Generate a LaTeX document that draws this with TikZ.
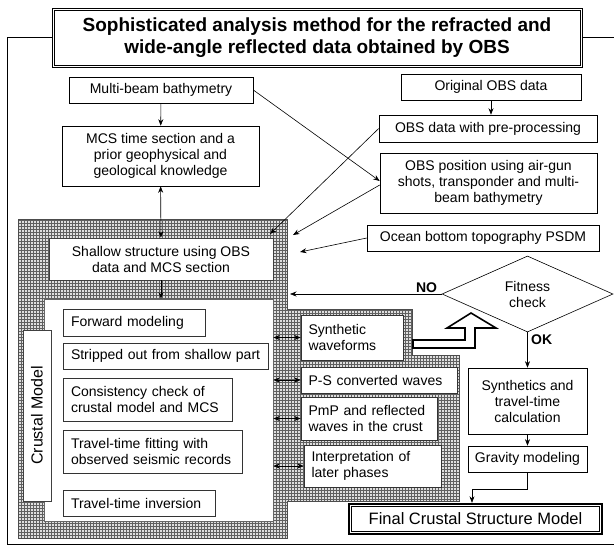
\documentclass[tikz,border=0pt]{standalone}
\usepackage{fontspec}
\setmainfont{Liberation Sans}
\usetikzlibrary{shapes.geometric, arrows.meta, patterns}
\tikzstyle{heading} = [rectangle, draw=black, line width=0.9pt, fill=white, minimum width=530pt, minimum height=59pt, align=center, font=\fontsize{19}{22}\selectfont\bfseries]
\tikzstyle{process} = [rectangle, draw=black, fill=white, line width=0.6pt, align=center, inner sep=0pt, font=\fontsize{14}{16}\selectfont]
\tikzstyle{task} = [rectangle, draw=black!80, fill=white, line width=0.6pt, align=left, inner xsep=8pt, inner ysep=0pt, font=\fontsize{14}{16}\selectfont]
\tikzstyle{wave} = [task, inner xsep=7.5pt]
\tikzstyle{decision} = [diamond, draw=black, fill=white, line width=0.6pt, aspect=2.25, inner sep=0pt, minimum width=171pt, minimum height=76pt, align=center, font=\fontsize{14}{16}\selectfont]
\tikzstyle{finalbox} = [rectangle, draw=black, line width=2.4pt, fill=white, minimum width=253pt, minimum height=30pt, font=\fontsize{16.5}{19}\selectfont]
\tikzstyle{shade} = [draw=gray!60!black, line width=0.6pt, preaction={fill=gray!25}, pattern=grid, pattern color=gray!75!black]
\tikzstyle{arrow} = [line width=0.6pt,->,>={Stealth[length=6.5pt,width=5pt]}]
\tikzstyle{twoway} = [line width=0.6pt,<->,>={Stealth[length=6.5pt,width=5pt]}]

\begin{document}
\begin{tikzpicture}[x=1pt, y=-1pt, node distance=58pt]
	\useasboundingbox (0,0) rectangle (614,547);

	\draw [shade] (18,219) -- (287,219) -- (287,309) -- (412,309) -- (412,355) -- (459,355)
		-- (459,501) -- (287,501) -- (287,538) -- (18,538) -- cycle;

	\node (title) [heading] at (317,37.5) {Sophisticated analysis method for the refracted and\\wide-angle reflected data obtained by OBS};
	\node (bathy) [process, minimum width=184pt, minimum height=26pt] at (161,90) {Multi-beam bathymetry};
	\node (orig) [process, minimum width=180pt, minimum height=26pt] at (491,87) {Original OBS data};
	\node (pre) [process, minimum width=218pt, minimum height=27pt] at (488,128.5) {OBS data with pre-processing};
	\node (mcs) [process, minimum width=197pt, minimum height=60pt] at (160.5,156) {MCS time section and a\\prior geophysical and\\geological knowledge};
	\node (pos) [process, minimum width=217pt, minimum height=60pt] at (488.5,183) {OBS position using air-gun\\shots, transponder and multi-\\beam bathymetry};
	\node (ocean) [process, minimum width=232pt, minimum height=26pt] at (483,238) {Ocean bottom topography PSDM};
	\node (shallow) [process, draw=black!75, minimum width=224pt, minimum height=42pt] at (161,259) {Shallow structure using OBS\\data and MCS section};

	\node (crust) [rectangle, draw=black!60, fill=white, line width=0.6pt, minimum width=229pt, minimum height=222pt] at (158.5,410) {};
	\node (crustlabel) [process, draw=black!75, rotate=90, minimum width=171pt, minimum height=28pt, font=\fontsize{16}{19}\selectfont] at (37,415.5) {Crustal Model};
	\node (fwd) [task, text width=126pt, minimum height=27pt] at (134,322.5) {Forward modeling};
	\node (strip) [task, inner xsep=4pt, text width=197pt, minimum height=26pt] at (165.5,356) {\hspace*{4pt}Stripped out from shallow part};
	\node (cons) [task, text width=153pt, minimum height=43pt] at (147.5,399.5) {Consistency check of\\crustal model and MCS};
	\node (fit) [task, text width=163pt, minimum height=43pt] at (152.5,451.5) {Travel-time fitting with\\observed seismic records};
	\node (inv) [task, text width=136pt, minimum height=26pt] at (139,503) {Travel-time inversion};

	\node (synw) [wave, text width=87pt, minimum height=45pt] at (352,337.5) {Synthetic\\waveforms};
	\node (ps) [wave, text width=141pt, minimum height=26pt] at (379,380) {P-S converted waves};
	\node (pmp) [wave, text width=121pt, minimum height=43pt] at (369,418.5) {PmP and reflected\\waves in the crust};
	\node (interp) [wave, text width=122pt, minimum height=42pt] at (372.5,466) {Interpretation of\\later phases};

	\node (fitness) [decision] at (527.5,294) {Fitness\\check};
	\node (syn) [process, minimum width=119pt, minimum height=66pt] at (527.5,401) {Synthetics and\\travel-time\\calculation};
	\node (grav) [process, minimum width=119pt, minimum height=26pt, below of=syn] {Gravity modeling};
	\node (final) [finalbox] at (475.5,519) {Final Crustal Structure Model};

	\coordinate (prehit) at (270,234);
	\coordinate (poshit) at (293,235);
	\coordinate (oceanhit) at (300,252);
	\coordinate (nohit) at (290,294);
	\coordinate (bend) at (472,489);

	\draw [line width=0.6pt] ([shift={(2.6,2.6)}]title.north west) rectangle ([shift={(-2.6,-2.6)}]title.south east);
	\draw [line width=0.6pt] ([shift={(3.6,3.6)}]final.north west) rectangle ([shift={(-3.6,-3.6)}]final.south east);
	\draw [line width=1.6pt, fill=white] (413,340) -- (465,340) -- (465,328) -- (447,328) -- (471,313)
		-- (496,328) -- (475,328) -- (475,348) -- (413,348) -- cycle;

	\draw [line width=0.6pt] (title.west) -| (7,544) -- (614,544);
	\draw [line width=0.6pt] (title.east) -- (614,37.5);

	\draw [arrow] (bathy) -- (mcs);
	\draw [arrow] (orig.south) -- (orig.south |- pre.north);
	\draw [arrow] (bathy.east) -- ([yshift=2pt]pos.west);
	\draw [arrow] (pre.west) -- (prehit);
	\draw [arrow] ([yshift=-2pt]pos.west) -- (poshit);
	\draw [arrow] (ocean.west) -- (oceanhit);
	\draw [twoway] (mcs) -- (shallow);
	\draw [arrow] (shallow.south) -- (shallow.south |- crust.north);

	\draw [twoway] (crust.east |- synw.west) -- (synw.west);
	\draw [twoway] (crust.east |- ps.west) -- (ps.west);
	\draw [twoway] (crust.east |- pmp.west) -- (pmp.west);
	\draw [twoway] (crust.east |- interp.west) -- (interp.west);

	\draw [arrow] (fitness.west) -- node[pos=0.1, above, inner sep=1pt, font=\fontsize{14}{16}\selectfont\bfseries]{NO} (nohit);
	\draw [arrow] (fitness.south) -- node[pos=0.22, right, font=\fontsize{14}{16}\selectfont\bfseries]{OK} (syn.north);
	\draw [arrow] (syn) -- (grav);
	\draw [arrow] (grav.south) |- (bend) -- (bend |- final.north);

\end{tikzpicture}
\end{document}
